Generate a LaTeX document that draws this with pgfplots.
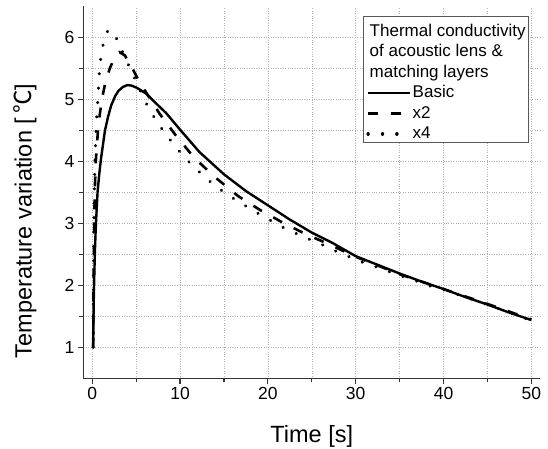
\documentclass[border=0pt]{standalone}
\usepackage{pgfplots}
\pgfplotsset{compat=1.18}
\usepackage{fontspec}
\setmainfont{Liberation Sans}
\newfontfamily\cjk{Noto Sans CJK SC}

\begin{document}
\begin{tikzpicture}
\begin{axis}[
  name=ax,
  scale only axis,
  width=456.6pt, height=372pt,
  xmin=-1, xmax=51, ymin=0.5, ymax=6.5,
  axis x line*=bottom, axis y line*=left,
  axis line style={black!80, line width=1.4pt},
  xtick={0,10,...,50}, ytick={1,2,...,6},
  minor x tick num=1, minor y tick num=1,
  tick align=outside,
  major tick length=5.5pt, minor tick length=4pt,
  tick style={black!80, line width=1.2pt},
  grid=both,
  grid style={dotted, black!30, line width=0.6pt},
  /pgf/number format/assume math mode=true,
  tick label style={font=\fontsize{17.5}{20}\selectfont},
  xlabel={Time [s]},
  xlabel style={at={(axis description cs:0.5,-0.1732)}, anchor=base, font=\fontsize{23.5}{28}\selectfont},
  ylabel={Temperature variation [\,{\cjk ℃}]},
  ylabel style={at={(axis description cs:-0.1134,0.423)}, anchor=base, font=\fontsize{23.5}{28}\selectfont},
  legend style={at={(axis description cs:0.9757,0.9745)}, anchor=north east,
    draw=black!65, line width=0.8pt, fill=white,
    inner xsep=3pt, inner ysep=3.3pt, row sep=3.5pt,
    font=\fontsize{17}{20}\selectfont,
    cells={anchor=base west},
    nodes={inner sep=0pt, text height=17pt, text depth=0pt},
    /tikz/every odd column/.append style={column sep=1pt}},
  legend image code/.code={\draw[#1] (0pt,5pt) -- (42pt,5pt);},
]
\addlegendimage{empty legend}
\addlegendentry{\hspace*{-43pt}Thermal conductivity}
\addlegendimage{empty legend}
\addlegendentry{\hspace*{-43pt}of acoustic lens \&}
\addlegendimage{empty legend}
\addlegendentry{\hspace*{-43pt}matching layers}

\addplot[black, line width=2.4pt, line join=round] coordinates {
(0.1,1.0) (0.15,1.6) (0.2,2.0) (0.3,2.55) (0.4,2.95) (0.6,3.5) (0.8,3.8)
(1.0,4.05) (1.45,4.5) (1.8,4.72) (2.15,4.9) (2.6,5.05) (3.0,5.14) (3.5,5.2)
(4.0,5.23) (4.5,5.22) (5.0,5.19) (5.5,5.15) (6.15,5.09) (7.0,4.97) (8.4,4.78)
(10,4.51) (12.2,4.15) (15,3.79) (17.5,3.52) (20,3.29) (22.5,3.06) (25,2.85)
(27.4,2.68) (30,2.47) (32.5,2.33) (35,2.19) (37.5,2.06) (40,1.94) (42.5,1.81)
(45,1.69) (47.5,1.56) (50,1.44)
};
\addlegendentry{Basic}

\addplot[black, line width=2.6pt, dash pattern=on 10pt off 13pt] coordinates {
(0.1,1.0) (0.15,2.0) (0.22,3.0) (0.3,3.6) (0.4,4.0) (0.7,4.6) (1.1,5.0)
(1.5,5.28) (2.0,5.5) (2.5,5.66) (3.1,5.76) (3.7,5.71) (4.6,5.49) (5.3,5.3)
(6.0,5.14) (7.7,4.76) (9.5,4.42) (11.65,4.05) (14.1,3.73) (16.6,3.44)
(19.05,3.22) (21.7,3.01) (24.4,2.82) (27,2.66) (30,2.46) (35,2.18) (40,1.94)
(45,1.70) (50,1.45)
};
\addlegendentry{x2}

\addplot[black, line width=3.3pt, line cap=round, dash pattern=on 0.1pt off 14.3pt] coordinates {
(0.1,1.0) (0.13,2.0) (0.2,3.2) (0.3,4.0) (0.45,4.6) (0.64,5.0) (0.83,5.5)
(1.05,5.75) (1.29,5.92) (1.8,6.12) (2.3,6.08) (2.9,5.95) (3.5,5.75) (4.2,5.53)
(4.9,5.32) (5.6,5.1) (6.3,4.89) (7.3,4.65) (8.35,4.44) (9.56,4.22) (10.8,4.02)
(12.33,3.81) (13.85,3.62) (15.4,3.46) (16.9,3.33) (18.5,3.19) (20,3.07)
(21.5,2.95) (23,2.85) (24.6,2.75) (26.1,2.66) (27.6,2.56) (29.1,2.47)
(30.6,2.38) (32.1,2.31) (33.6,2.23) (35.2,2.15) (36.7,2.08) (38.2,2.0)
(40,1.93) (42.5,1.81) (45,1.69) (47.5,1.56) (50,1.43)
};
\addlegendentry{x4}
\end{axis}
\pgfresetboundingbox
\path[use as bounding box] ([shift={(-83.5pt,-69.7pt)}]ax.south west) rectangle ([shift={(464.5pt,378.3pt)}]ax.south west);
\end{tikzpicture}
\end{document}
